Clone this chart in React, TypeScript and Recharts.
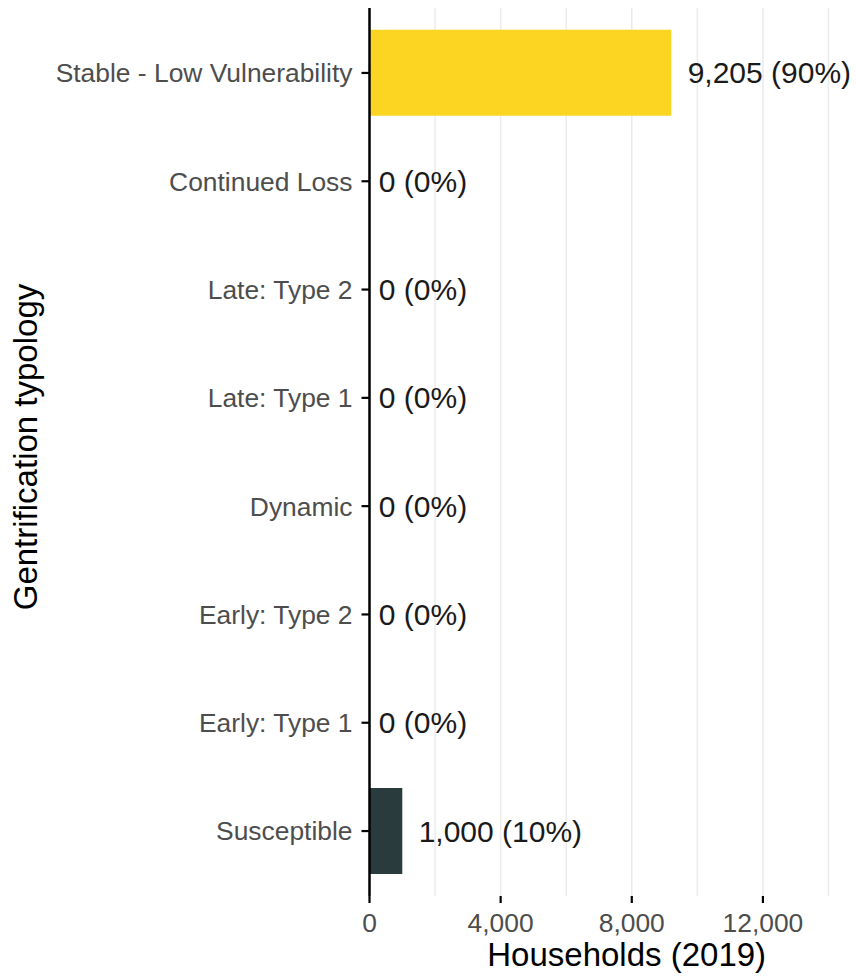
import React from 'react';
import { BarChart, Bar, XAxis, YAxis, CartesianGrid, Cell, LabelList } from 'recharts';

const categories = [
  'Stable - Low Vulnerability',
  'Continued Loss',
  'Late: Type 2',
  'Late: Type 1',
  'Dynamic',
  'Early: Type 2',
  'Early: Type 1',
  'Susceptible',
];
const households = [9205, 0, 0, 0, 0, 0, 0, 1000];
const barColors = ['#FCD523', '#FCD523', '#FCD523', '#FCD523', '#FCD523', '#FCD523', '#FCD523', '#2A3B3E'];
const xTicks = [0, 2000, 4000, 6000, 8000, 10000, 12000, 14000];
const xLabelTicks = [0, 4000, 8000, 12000];

const total = households.reduce((a, b) => a + b, 0);
const data = categories.map((name, i) => ({
  name,
  value: households[i],
  label: `${households[i].toLocaleString('en-US')} (${Math.round((households[i] / total) * 100)}%)`,
}));

const FONT = '"Liberation Sans", Arial, Helvetica, sans-serif';

const charW: Record<string, number> = { ',': 0.278, ' ': 0.278, '(': 0.333, ')': 0.333, '%': 0.889 };
const textWidth = (s: string, fs: number) =>
  s.split('').reduce((acc, c) => acc + (charW[c] ?? 0.556), 0) * fs;

const XTick = (props: any) => {
  const { x, y, payload } = props;
  const v = payload.value;
  if (!xLabelTicks.includes(v)) return null;
  return (
    <g>
      <line x1={x} x2={x} y1={y - 17} y2={y - 10} stroke="#000" strokeWidth={2.2} />
      <text x={x} y={y} dy="0.71em" textAnchor="middle" fill="#4d4d4d" fontSize={26.4} fontFamily={FONT}>
        {v.toLocaleString('en-US')}
      </text>
    </g>
  );
};

const BarLabel = (props: any) => {
  const { x, y, width, height, value } = props;
  const text = String(value);
  const fs = 30;
  const gap = textWidth(text, fs) * 0.1;
  return (
    <text x={x + width + gap} y={y + height / 2} dy="0.355em" fill="#1a1a1a" fontSize={fs} fontFamily={FONT}>
      {text}
    </text>
  );
};

export default function App() {
  return (
    <div style={{ position: 'absolute', left: 0, top: 0, width: 856, height: 977, background: '#fff' }}>
      <BarChart
        width={856}
        height={977}
        data={data}
        layout="vertical"
        margin={{ top: 8, right: 27.5, bottom: 0, left: 0 }}
        barCategoryGap={0}
      >
        <CartesianGrid horizontal={false} vertical={true} stroke="#ebebeb" strokeWidth={1.5} />
        <XAxis
          type="number"
          domain={[0, 14000]}
          ticks={xTicks}
          interval={0}
          axisLine={false}
          tickLine={false}
          tickSize={7}
          tickMargin={10}
          height={81}
          tick={<XTick />}
          label={{
            content: () => (
              <text x={626.7} y={966} textAnchor="middle" fill="#000" fontSize={33} fontFamily={FONT}>
                Households (2019)
              </text>
            ),
          }}
        />
        <YAxis
          type="category"
          dataKey="name"
          width={369.5}
          padding={{ top: 10.8, bottom: 10.8 }}
          axisLine={{ stroke: '#000', strokeWidth: 2.5 }}
          tickLine={{ stroke: '#000', strokeWidth: 2.2 }}
          tickSize={8}
          tickMargin={9}
          interval={0}
          tick={{ fill: '#4d4d4d', fontSize: 26.4, fontFamily: FONT }}
          label={{
            content: () => (
              <text
                x={37}
                y={447}
                transform="rotate(-90 37 447)"
                textAnchor="middle"
                fill="#000"
                fontSize={33}
                fontFamily={FONT}
              >
                Gentrification typology
              </text>
            ),
          }}
        />
        <Bar dataKey="value" barSize={86} minPointSize={0.5} isAnimationActive={false}>
          {data.map((d, i) => (
            <Cell key={d.name} fill={barColors[i]} />
          ))}
          <LabelList dataKey="label" content={<BarLabel />} />
        </Bar>
      </BarChart>
    </div>
  );
}
